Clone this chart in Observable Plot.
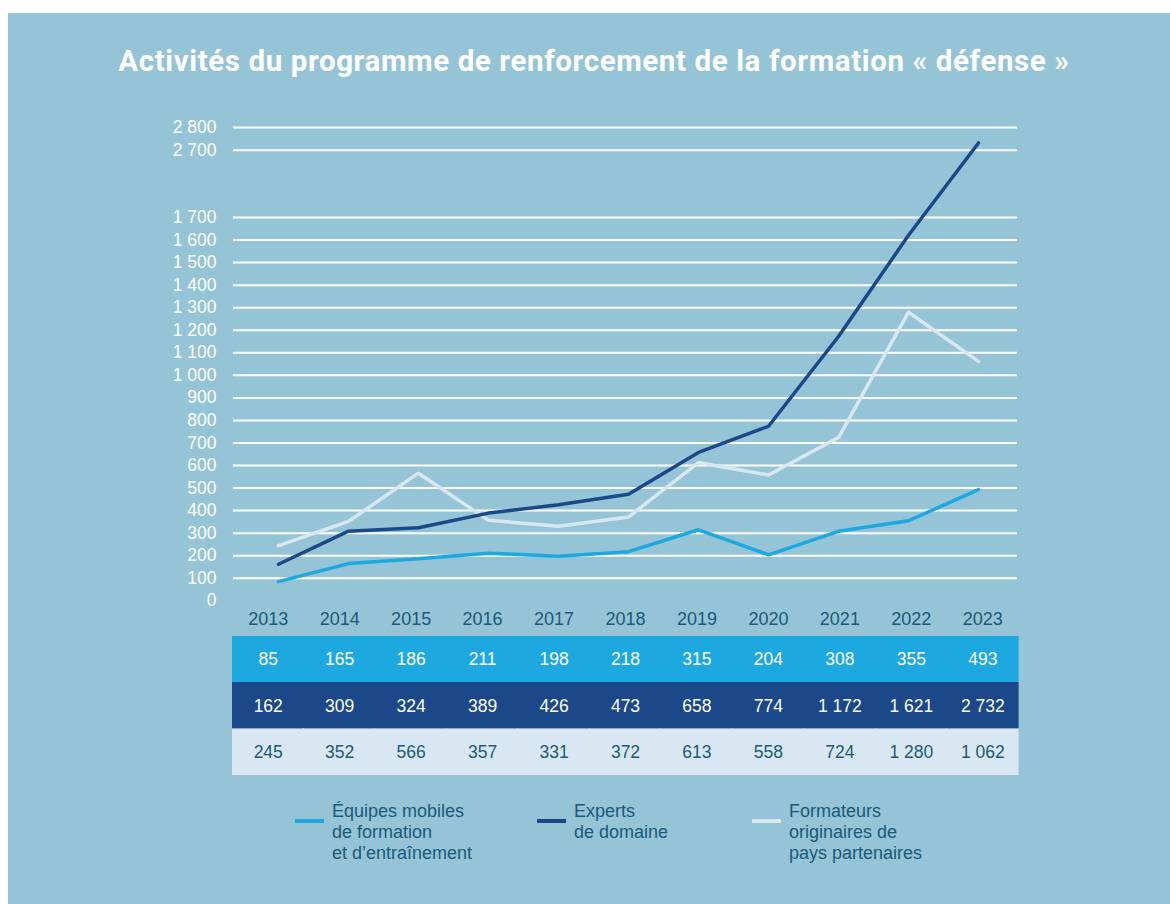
<!DOCTYPE html>
<html><head><meta charset="utf-8">
<script src="https://cdn.jsdelivr.net/npm/d3@7"></script>
<script src="https://cdn.jsdelivr.net/npm/@observablehq/plot@0.6"></script>
<style>
body{margin:0;background:#fff;}
#page{position:relative;width:1170px;height:904px;overflow:hidden;font-family:"Liberation Sans",Arial,sans-serif;}
#bg{position:absolute;left:8px;top:13px;right:0;bottom:0;background:#95c4d6;}
#title{position:absolute;left:0;width:1188px;top:43px;text-align:center;color:#fff;font-family:Roboto,sans-serif;font-weight:700;font-size:29.5px;line-height:36px;letter-spacing:0.6px;white-space:nowrap;}
.plot{position:absolute;left:0;}
.leg{position:absolute;color:#1b5a78;font-size:18px;line-height:21px;}
.sw{position:absolute;height:4px;width:29px;}
</style></head>
<body><div id="page"><div id="bg"></div>
<div id="title">Activités du programme de renforcement de la formation « défense »</div>
<div id="main" class="plot" style="top:0"></div>
<div id="table" class="plot" style="top:600px"></div>
<div id="legend"></div>
</div>
<script>
const years = [2013,2014,2015,2016,2017,2018,2019,2020,2021,2022,2023];
const equipes = [85,165,186,211,198,218,315,204,308,355,493];
const experts = [162,309,324,389,426,473,658,774,1172,1621,2732];
const formateurs = [245,352,566,357,331,372,613,558,724,1280,1062];
const seriesNames = ["Équipes mobiles de formation et d’entraînement","Experts de domaine","Formateurs originaires de pays partenaires"];
const legendLines = [["Équipes mobiles","de formation","et d’entraînement"],["Experts","de domaine"],["Formateurs","originaires de","pays partenaires"]];
const seriesColors = ["#1ea8e0","#1a4888","#d9e7f2"];
const tableText = ["#ffffff","#ffffff","#1b5a78"];
const yTicks = [0,100,200,300,400,500,600,700,800,900,1000,1100,1200,1300,1400,1500,1600,1700,2700,2800];
const gridTicks = yTicks.filter(d => d > 0);

const fmt = d => d3.format(",")(d).replace(/,/g, "\u00a0");
const values = [equipes, experts, formateurs];
const rows = [];
values.forEach((arr, s) => arr.forEach((v, i) => rows.push({series: seriesNames[s], year: years[i], value: v, s})));

const main = Plot.plot({
  width: 1170, height: 640,
  marginLeft: 233, marginRight: 153, marginTop: 0, marginBottom: 0,
  style: {fontFamily: "Liberation Sans, Arial, sans-serif", background: "transparent"},
  x: {type: "point", domain: years, range: [275, 981], padding: 0, axis: null},
  y: {type: "linear", domain: [0, 1700, 2700, 2800], range: [600.3, 217, 149.7, 127], axis: null, label: null},
  color: {domain: seriesNames, range: seriesColors},
  marks: [
    Plot.ruleY(gridTicks, {stroke: "#ffffff", strokeWidth: 2}),
    Plot.axisY(yTicks, {anchor: "left", tickSize: 0, tickPadding: 17, tickFormat: fmt, color: "#ffffff", fontSize: 17.5, label: null}),
    Plot.line(rows.filter(d => d.s === 2), {x: "year", y: "value", stroke: "series", strokeWidth: 3.5}),
    Plot.line(rows.filter(d => d.s === 1), {x: "year", y: "value", stroke: "series", strokeWidth: 3.5}),
    Plot.line(rows.filter(d => d.s === 0), {x: "year", y: "value", stroke: "series", strokeWidth: 3.5})
  ]
});
document.getElementById("main").appendChild(main);

const table = Plot.plot({
  width: 1170, height: 175,
  marginLeft: 232, marginRight: 152, marginTop: 36, marginBottom: 0,
  style: {fontFamily: "Liberation Sans, Arial, sans-serif", background: "transparent"},
  x: {type: "band", domain: years, padding: 0, round: false, axis: null},
  y: {type: "band", domain: seriesNames, padding: 0, round: false, axis: null},
  color: {domain: seriesNames, range: seriesColors},
  marks: [
    Plot.axisX({anchor: "top", tickSize: 0, tickPadding: 12, tickFormat: d => String(d), color: "#1b5a78", fontSize: 18, label: null}),
    Plot.cell(rows, {x: "year", y: "series", fill: "series", stroke: "series", strokeWidth: 0.6, inset: 0, shapeRendering: "crispEdges"}),
    ...[0,1,2].map(s => Plot.text(rows.filter(d => d.s === s), {x: "year", y: "series", text: d => fmt(d.value), fill: tableText[s], fontSize: 17.5}))
  ]
});
document.getElementById("table").appendChild(table);

const leg = document.getElementById("legend");
const legX = [295, 537, 752];
legendLines.forEach((lines, i) => {
  const sw = document.createElement("div");
  sw.className = "sw";
  sw.style.left = legX[i] + "px"; sw.style.top = "819px"; sw.style.background = seriesColors[i];
  leg.appendChild(sw);
  const t = document.createElement("div");
  t.className = "leg";
  t.style.left = (legX[i] + 37) + "px"; t.style.top = "801px";
  t.innerHTML = lines.join("<br>");
  leg.appendChild(t);
});
</script>
</body></html>
